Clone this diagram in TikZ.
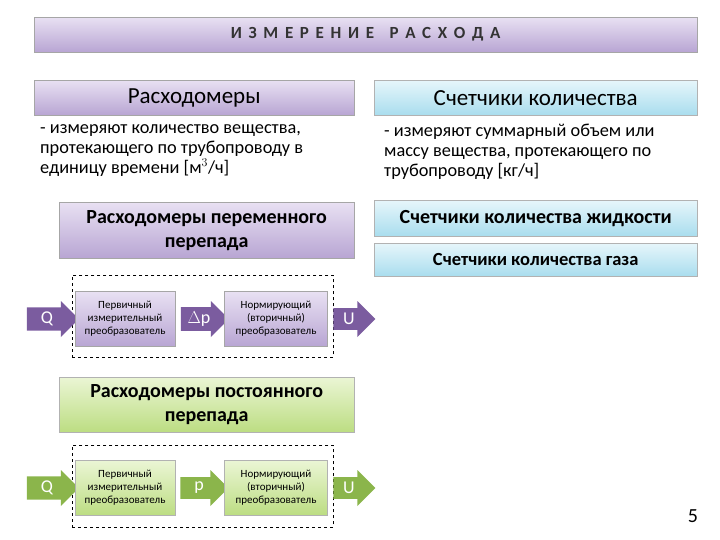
\documentclass[tikz,border=0pt]{standalone}
\usepackage{fontspec}
\setmainfont{Carlito}
\usetikzlibrary{shapes.arrows}
\definecolor{lav}{HTML}{D9CCEA}
\definecolor{lavd}{HTML}{B8A5D3}
\definecolor{cy}{HTML}{D6F0F8}
\definecolor{cyd}{HTML}{A9DDEE}
\definecolor{gr}{HTML}{DDEFB8}
\definecolor{grd}{HTML}{BCDD82}
\definecolor{parr}{HTML}{7B5C9F}
\definecolor{garr}{HTML}{8BB54B}
\tikzset{
 lbox/.style={draw=gray!70,top color=lav!60,bottom color=lavd,inner sep=0pt},
 cbox/.style={draw=gray!60,top color=cy!60,bottom color=cyd,inner sep=0pt},
 gbox/.style={draw=gray!60,top color=gr!60,bottom color=grd,inner sep=0pt},
 small/.style={font=\fontsize{11}{13}\selectfont,align=center,inner sep=0pt},
 arr/.style={single arrow,single arrow head extend=4pt,minimum height=#1,minimum width=36pt,inner sep=0pt,font=\fontsize{18}{20}\selectfont,text=white},
 dbox/.style={draw,dashed,thick}
}
\begin{document}
\begin{tikzpicture}[x=1pt,y=-1pt]
\useasboundingbox (0,0) rectangle (720,540);
% title
\node[lbox,minimum width=663pt,minimum height=35pt,anchor=north west,font=\bfseries\fontsize{17}{18}\selectfont,text=black!80] (t) at (34,17) {И\,\ З\,\ М\,\ Е\,\ Р\,\ Е\,\ Н\,\ И\,\ Е\ \ \ \ Р\,\ А\,\ С\,\ Х\,\ О\,\ Д\,\ А};
\node[lbox,minimum width=320pt,minimum height=35pt,anchor=north west,font=\fontsize{23}{25}\selectfont] (r) at (34,80) {Расходомеры};
\node[cbox,minimum width=323pt,minimum height=35pt,anchor=north west,font=\fontsize{23}{25}\selectfont] (s) at (374,80) {Счетчики количества};
\node[anchor=north west,align=left,font=\fontsize{18.3}{20}\selectfont,inner sep=0pt] (rt) at (40,124) {- измеряют количество вещества,\\протекающего по трубопроводу в\\единицу времени [м$^3$/ч]};
\node[anchor=north west,align=left,font=\fontsize{18.3}{20}\selectfont,inner sep=0pt] (st) at (384,124) {- измеряют суммарный объем или\\массу вещества, протекающего по\\трубопроводу [кг/ч]};
\node[lbox,minimum width=295pt,minimum height=56pt,anchor=north west,align=center,font=\bfseries\fontsize{20}{24}\selectfont] (rp) at (59,202) {Расходомеры переменного\\перепада};
\node[cbox,minimum width=323pt,minimum height=36pt,anchor=north west,font=\bfseries\fontsize{20}{22}\selectfont] (sl) at (374,200) {Счетчики количества жидкости};
\node[cbox,minimum width=323pt,minimum height=33pt,anchor=north west,font=\bfseries\fontsize{18.5}{20}\selectfont] (sg) at (374,243) {Счетчики количества газа};
% block 1
\node[dbox,minimum width=261pt,minimum height=82pt,anchor=north west] (d1) at (72,275) {};
\node[arr=52pt,fill=parr] (q1) at (47,319) {Q\hspace{8pt}};
\node[lbox,small,minimum width=100pt,minimum height=55pt] (b1) at (125,319) {Первичный\\измерительный\\преобразователь};
\node[arr=48pt,fill=parr] (p1) at (199,319) {$\Delta$p\hspace{6pt}};
\node[lbox,small,minimum width=103pt,minimum height=55pt] (b2) at (276,319) {Нормирующий\\(вторичный)\\преобразователь};
\node[arr=42pt,fill=parr] (u1) at (349,319) {U\hspace{6pt}};
% block 2
\node[gbox,minimum width=295pt,minimum height=55pt,anchor=north west,align=center,font=\bfseries\fontsize{20}{24}\selectfont] (rc) at (59,377) {Расходомеры постоянного\\перепада};
\node[dbox,minimum width=261pt,minimum height=82pt,anchor=north west] (d2) at (72,445) {};
\node[arr=52pt,fill=garr] (q2) at (47,488) {Q\hspace{8pt}};
\node[gbox,small,minimum width=100pt,minimum height=55pt] (c1) at (125,488) {Первичный\\измерительный\\преобразователь};
\node[arr=48pt,fill=garr] (p2) at (199,488) {p\hspace{6pt}};
\node[gbox,small,minimum width=103pt,minimum height=55pt] (c2) at (276,488) {Нормирующий\\(вторичный)\\преобразователь};
\node[arr=42pt,fill=garr] (u2) at (349,488) {U\hspace{6pt}};
\node[font=\fontsize{20}{22}\selectfont] (n) at (693,516) {5};
\end{tikzpicture}
\end{document}
